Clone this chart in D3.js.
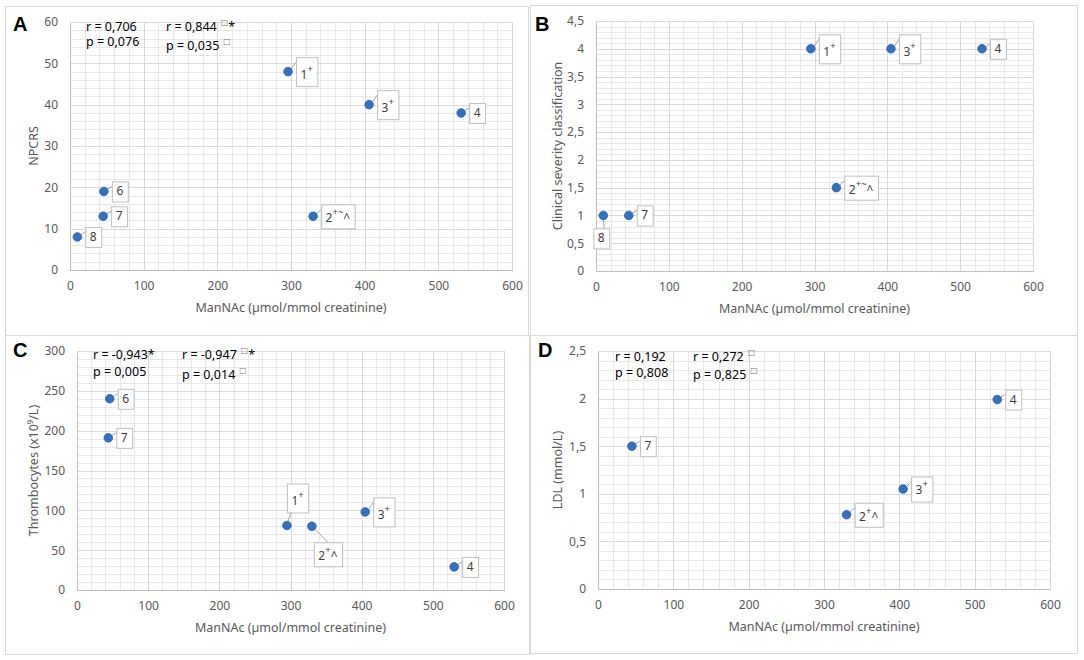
<!DOCTYPE html>
<html><head><meta charset="utf-8">
<script src="https://cdn.jsdelivr.net/npm/d3@7"></script>
<style>
body{margin:0;background:#fff}
svg{display:block;font-family:"Noto Sans","Open Sans",sans-serif}
</style>
</head><body>
<svg id="chart" width="1084" height="660"></svg>
<script>
// ---------- DATA ----------
const xTicks = [0, 100, 200, 300, 400, 500, 600];

// Panel A: NPCRS
const manA = [296, 330, 406, 531, 46, 45, 10];
const npcrs = [48, 13, 40, 38, 19, 13, 8];
const labelsA = [["1","+",""],["2","+~","^"],["3","+",""],["4","",""],["6","",""],["7","",""],["8","",""]];
const placeA = ["r","r","r","r","r","r","r"];
const yTicksA = [0, 10, 20, 30, 40, 50, 60];

// Panel B: Clinical severity classification
const manB = [295, 330, 405, 530, 45, 10];
const severity = [4, 1.5, 4, 4, 1, 1];
const labelsB = [["1","+",""],["2","+~","^"],["3","+",""],["4","",""],["7","",""],["8","",""]];
const placeB = ["r","r","r","r","r","b"];
const yTicksB = [0, 0.5, 1, 1.5, 2, 2.5, 3, 3.5, 4, 4.5];

// Panel C: Thrombocytes
const manC = [295, 330, 405, 530, 46, 44];
const thrombo = [81, 80, 98, 29, 240, 191];
const labelsC = [["1","+",""],["2","+","^"],["3","+",""],["4","",""],["6","",""],["7","",""]];
const placeC = ["a","br","r","r","r","r"];
const yTicksC = [0, 50, 100, 150, 200, 250, 300];

// Panel D: LDL
const manD = [330, 405, 530, 45];
const ldl = [0.78, 1.05, 1.99, 1.5];
const labelsD = [["2","+","^"],["3","+",""],["4","",""],["7","",""]];
const placeD = ["r","r","r","r"];
const yTicksD = [0, 0.5, 1, 1.5, 2, 2.5];

// stats text: [main, superscript, tail]
const statsA = [[["r = 0,706","",""],["p = 0,076","",""]],[["r = 0,844","□","*"],["p = 0,035","□",""]]];
const statsB = [];
const statsC = [[["r = -0,943*","",""],["p = 0,005","",""]],[["r = -0,947","□","*"],["p = 0,014","□",""]]];
const statsD = [[["r = 0,192","",""],["p = 0,808","",""]],[["r = 0,272","□",""],["p = 0,825","□",""]]];

const xTitle = "ManNAc (µmol/mmol creatinine)";

// ---------- LAYOUT ----------
const panels = [
  {letter:"A", lx:13, ly:31, border:[5,6,528,335], xr:[70,512], yr:[270,22], yTicks:yTicksA, yMinor:2,
   title:"NPCRS", tx:33, xs:manA, ys:npcrs, labels:labelsA, place:placeA, stats:statsA, sx:[86,166], sy:[[31,46],[31,50]], supH:29},
  {letter:"B", lx:535, ly:31, border:[530,5,1077,335], xr:[596,1033], yr:[271,21], yTicks:yTicksB, yMinor:0.1,
   title:"Clinical severity classification", tx:557, xs:manB, ys:severity, labels:labelsB, place:placeB, stats:statsB, sx:[], sy:[], supH:29},
  {letter:"C", lx:13, ly:357, border:[5,335,529,654], xr:[77,504], yr:[590,351], yTicks:yTicksC, yMinor:10,
   title:"Thrombocytes (x10⁹/L)", tx:33, xs:manC, ys:thrombo, labels:labelsC, place:placeC, stats:statsC, sx:[93,182], sy:[[359,376],[359,379]], supH:29},
  {letter:"D", lx:538, ly:357, border:[530,335,1077,653], xr:[598,1050], yr:[589,351], yTicks:yTicksD, yMinor:0.1,
   title:"LDL (mmol/L)", tx:557, xs:manD, ys:ldl, labels:labelsD, place:placeD, stats:statsD, sx:[615,693], sy:[[361,377],[361,379]], supH:25}
];

const svg = d3.select("#chart");
const fmt = d => String(d).replace(".", ",");
const gridMajor = "#d9d9d9", gridMinor = "#e8e8e8", axisCol = "#bfbfbf", txtCol = "#595959";

panels.forEach(p => {
  const g = svg.append("g");
  const [bx0,by0,bx1,by1] = p.border;
  g.append("rect").attr("x",bx0+0.5).attr("y",by0+0.5).attr("width",bx1-bx0).attr("height",by1-by0)
    .attr("fill","#fff").attr("stroke","#d9d9d9").attr("stroke-width",1);

  const ymax = p.yTicks[p.yTicks.length-1];
  const x = d3.scaleLinear().domain([0,600]).range(p.xr);
  const y = d3.scaleLinear().domain([0,ymax]).range(p.yr);
  const H = p.yr[0]-p.yr[1], W = p.xr[1]-p.xr[0];

  // minor grid
  const xMinor = d3.range(0, 600.001, 20);
  const yMinorVals = d3.range(0, Math.round(ymax/p.yMinor)+1).map(i => +(i*p.yMinor).toFixed(4));
  g.append("g").attr("transform",`translate(0,${p.yr[0]})`)
    .call(d3.axisBottom(x).tickValues(xMinor).tickSize(-H).tickFormat(""))
    .call(a => {a.select(".domain").remove(); a.selectAll("line").attr("stroke",gridMinor).attr("shape-rendering","crispEdges");});
  g.append("g").attr("transform",`translate(${p.xr[0]},0)`)
    .call(d3.axisLeft(y).tickValues(yMinorVals).tickSize(-W).tickFormat(""))
    .call(a => {a.select(".domain").remove(); a.selectAll("line").attr("stroke",gridMinor).attr("shape-rendering","crispEdges");});
  // major grid
  g.append("g").attr("transform",`translate(0,${p.yr[0]})`)
    .call(d3.axisBottom(x).tickValues(xTicks).tickSize(-H).tickFormat(""))
    .call(a => {a.select(".domain").remove(); a.selectAll("line").attr("stroke",gridMajor).attr("shape-rendering","crispEdges");});
  g.append("g").attr("transform",`translate(${p.xr[0]},0)`)
    .call(d3.axisLeft(y).tickValues(p.yTicks).tickSize(-W).tickFormat(""))
    .call(a => {a.select(".domain").remove(); a.selectAll("line").attr("stroke",gridMajor).attr("shape-rendering","crispEdges");});

  // axes with labels
  g.append("g").attr("transform",`translate(0,${p.yr[0]})`)
    .call(d3.axisBottom(x).tickValues(xTicks).tickSize(0).tickPadding(11).tickFormat(fmt))
    .call(a => {
      a.select(".domain").attr("stroke",axisCol).attr("shape-rendering","crispEdges");
      a.selectAll("text").attr("fill",txtCol).attr("font-size","12px").attr("font-family","Noto Sans");
    });
  g.append("g").attr("transform",`translate(${p.xr[0]},0)`)
    .call(d3.axisLeft(y).tickValues(p.yTicks).tickSize(0).tickPadding(12).tickFormat(fmt))
    .call(a => {
      a.select(".domain").attr("stroke",axisCol).attr("shape-rendering","crispEdges");
      a.selectAll("text").attr("fill",txtCol).attr("font-size","12px").attr("font-family","Noto Sans");
    });

  // axis titles
  g.append("text").attr("x",(p.xr[0]+p.xr[1])/2).attr("y",p.yr[0]+37).attr("text-anchor","middle")
    .attr("dominant-baseline","central").attr("fill",txtCol).attr("font-size","12.5px").text(xTitle);
  g.append("text").attr("transform",`translate(${p.tx},${(p.yr[0]+p.yr[1])/2}) rotate(-90)`)
    .attr("text-anchor","middle").attr("dominant-baseline","central").attr("fill",txtCol)
    .attr("font-size","12.5px").text(p.title);

  // panel letter
  g.append("text").attr("x",p.lx).attr("y",p.ly).attr("font-family","Liberation Sans, Arial, sans-serif")
    .attr("font-weight","bold").attr("font-size","20px").attr("fill","#000").text(p.letter);

  // stats
  p.stats.forEach((col, ci) => {
    col.forEach((line, li) => {
      const t = g.append("text").attr("x",p.sx[ci]).attr("y",p.sy[ci][li]).attr("font-size","12.5px").attr("fill","#000");
      t.append("tspan").text(line[0]);
      if (line[1]) t.append("tspan").attr("dx",4).attr("dy",-6).attr("font-size","8px").attr("fill","#777")
        .attr("font-family","DejaVu Sans").text(line[1]);
      if (line[2]) t.append("tspan").attr("dy",6).attr("font-size","12.5px").text(line[2]);
    });
  });

  // points + callouts
  p.xs.forEach((xv, i) => {
    const px = x(xv), py = y(p.ys[i]);
    const lab = p.labels[i];
    const hasSup = lab[1] !== "";
    const h = hasSup ? (lab[2] ? 24 : p.supH) : 20;
    const lg = g.append("g");
    const rect = lg.append("rect");
    const line = lg.append("line");
    const t = lg.append("text").attr("font-size","12px").attr("fill","#404040");
    t.append("tspan").text(lab[0]);
    if (hasSup) t.append("tspan").attr("dy",-7).attr("font-size","9.5px").text(lab[1]);
    if (lab[2]) t.append("tspan").attr("dy",7).attr("font-size","12px").text(lab[2]);
    const w = t.node().getComputedTextLength() + 9;
    let bx, by, l1, l2;
    const pl = p.place[i];
    if (pl === "r") { bx = px+8; by = py-h/2; l1=[px+3,py-2]; l2=[bx,by+5]; }
    else if (pl === "b") { bx = px-w/2-2; by = py+13; l1=[px,py+4]; l2=[px+1,by]; }
    else if (pl === "a") { bx = px; by = py-13-h; l1=[px+1,py-4]; l2=[bx+4,by+h]; }
    else { bx = px+2; by = py+16; l1=[px+3,py+3]; l2=[bx+14,by]; }
    rect.attr("x",bx+0.5).attr("y",by+0.5).attr("width",w).attr("height",h)
      .attr("fill","#fff").attr("stroke","#bfbfbf").attr("stroke-width",1);
    line.attr("x1",l1[0]).attr("y1",l1[1]).attr("x2",l2[0]).attr("y2",l2[1])
      .attr("stroke","#a6a6a6").attr("stroke-width",1);
    t.attr("x",bx+4.5).attr("y",by+h-(hasSup && !lab[2] ? 7.5 : 6));
    g.append("circle").attr("cx",px).attr("cy",py).attr("r",4.3)
      .attr("fill","#3370bd").attr("stroke","#2a5fa5").attr("stroke-width",0.8);
  });
});
</script>
</body></html>
